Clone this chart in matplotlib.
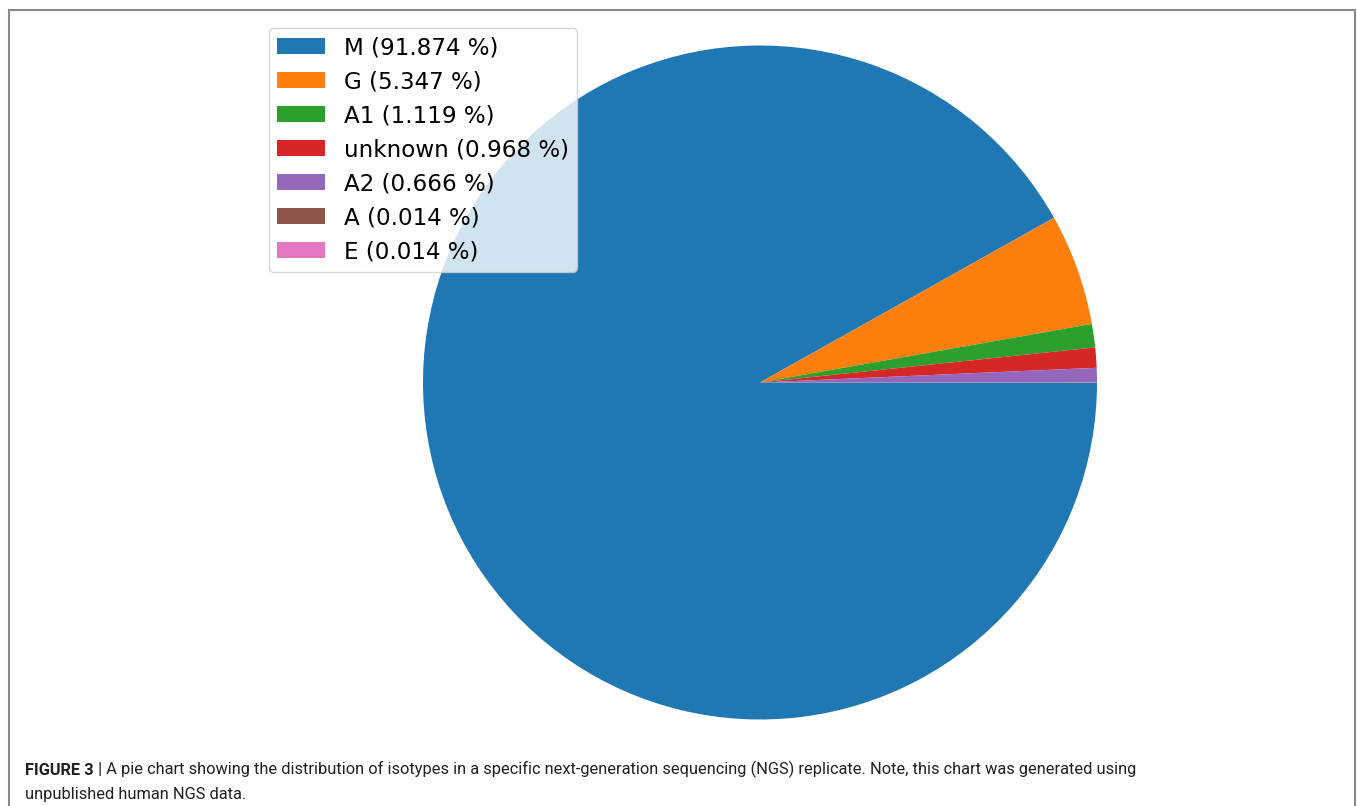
import matplotlib
matplotlib.use("Agg")
import matplotlib.pyplot as plt
from matplotlib.patches import Rectangle

# isotype shares (%)
isotypes = ['M', 'G', 'A1', 'unknown', 'A2', 'A', 'E']
shares = [91.874, 5.347, 1.119, 0.968, 0.666, 0.014, 0.014]
legend_labels = [f"{n} ({v:.3f} %)" for n, v in zip(isotypes, shares)]

caption_bold = "FIGURE 3"
caption_rest = (" | A pie chart showing the distribution of isotypes in a specific "
                "next-generation sequencing (NGS) replicate. Note, this chart was generated using")
caption_line2 = "unpublished human NGS data."

W, H = 1357, 806
fig = plt.figure(figsize=(W / 100, H / 100), dpi=100)

# pie centre ~ (760, 382) px, radius ~ 337 px
cx, cy, r = 760, 382.5, 337
ax = fig.add_axes([(cx - r) / W, (H - cy - r) / H, 2 * r / W, 2 * r / H])
wedges, _ = ax.pie(shares, startangle=0, counterclock=False, radius=1)
ax.set_xlim(-1, 1)
ax.set_ylim(-1, 1)
ax.set_aspect('equal')
ax.axis('off')

fig.legend(wedges, legend_labels, loc='upper left',
           bbox_to_anchor=(269 / W, 1 - 28 / H), borderaxespad=0,
           fontsize=16.6, handlelength=2.1, handleheight=0.7,
           handletextpad=0.8, labelspacing=0.48, borderpad=0.35,
           framealpha=0.8, edgecolor='0.8')

# grey frame around the figure (open at the bottom)
fig.add_artist(Rectangle((9 / W, -0.1), (1355 - 9) / W, 1 - 10 / H + 0.1,
                         transform=fig.transFigure, fill=False,
                         edgecolor='#8a8a8a', linewidth=1.5))

cap_font = ['Roboto', 'DejaVu Sans']
cap_size = 11.8
t1 = fig.text(25 / W, 1 - 775 / H, caption_bold, fontsize=cap_size, fontweight='bold',
              family=cap_font, color='#231f20', va='baseline')
ax.annotate(caption_rest, xy=(1, 0), xycoords=t1, va='bottom', ha='left',
            fontsize=cap_size, family=cap_font, color='#231f20', annotation_clip=False)
fig.text(25 / W, 1 - 799 / H, caption_line2, fontsize=cap_size, family=cap_font,
         color='#231f20', va='baseline')

plt.savefig('out.png', dpi=100)
